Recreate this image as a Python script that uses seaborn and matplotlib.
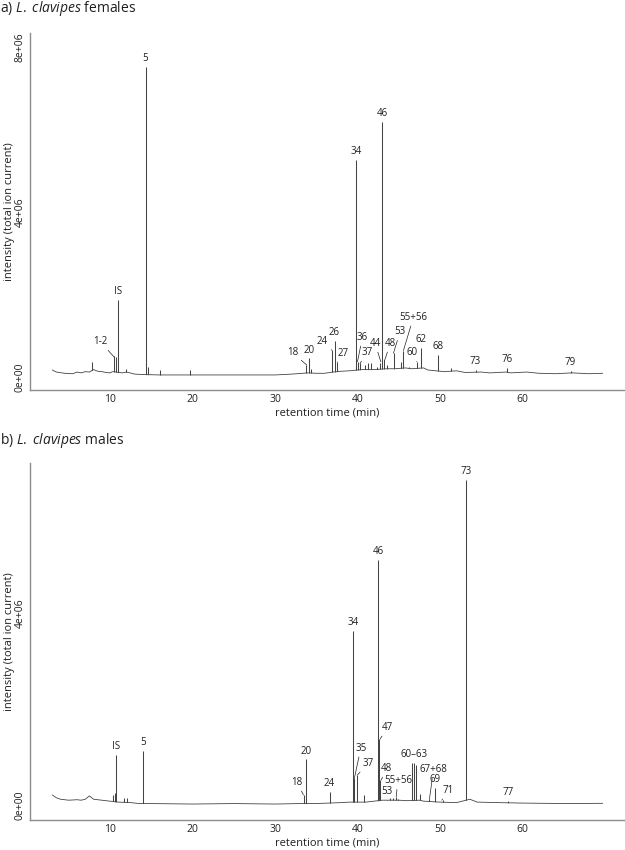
import matplotlib
matplotlib.use("Agg")
import matplotlib.pyplot as plt
import seaborn as sns

# ---- panel a: L. clavipes females (time in min, intensity in units of 1e6) ----
base_a_t = [3.0, 3.5, 4.5, 5.5, 6.0, 6.5, 7.0, 7.5, 8.0, 8.5, 9.0, 9.5, 10.0, 10.3,
            11.5, 12.0, 13.0, 14.0, 16.0, 20.0, 25.0, 30.0, 32.0, 34.0, 35.0, 36.0,
            37.0, 38.0, 39.0, 40.5, 42.0, 43.5, 44.5, 45.8, 46.5, 48.0, 48.5, 50.5,
            52.0, 53.0, 55.0, 56.0, 58.0, 58.5, 60.5, 62.0, 64.0, 66.0, 68.0, 69.7]
base_a_v = [0.17, 0.12, 0.09, 0.08, 0.12, 0.10, 0.13, 0.12, 0.18, 0.14, 0.13, 0.11,
            0.10, 0.13, 0.10, 0.12, 0.07, 0.06, 0.05, 0.05, 0.05, 0.05, 0.07, 0.10,
            0.09, 0.09, 0.12, 0.14, 0.15, 0.18, 0.18, 0.20, 0.20, 0.22, 0.20, 0.22,
            0.17, 0.13, 0.15, 0.11, 0.12, 0.10, 0.12, 0.10, 0.12, 0.09, 0.08, 0.10,
            0.08, 0.09]
peak_a_t = [7.8, 10.52, 10.69, 10.93, 11.9, 14.3, 14.65, 16.1, 19.7, 33.8, 34.1,
            34.4, 36.9, 37.2, 37.5, 39.8, 40.0, 40.3, 40.9, 41.3, 41.6, 42.3, 42.7,
            43.0, 43.25, 43.6, 44.35, 45.2, 45.5, 46.2, 47.25, 47.7, 49.7, 51.3,
            54.3, 58.1, 65.8]
peak_a_v = [0.37, 0.51, 0.48, 1.87, 0.20, 7.52, 0.25, 0.18, 0.18, 0.29, 0.45,
            0.20, 0.65, 0.87, 0.37, 5.26, 0.37, 0.33, 0.28, 0.33, 0.35, 0.25, 0.34,
            6.19, 0.43, 0.30, 0.575, 0.36, 0.64, 0.25, 0.37, 0.70, 0.53, 0.22,
            0.17, 0.23, 0.15]
top_lab_a = ["IS", "5", "20", "26", "34", "46", "62", "68", "73", "76", "79"]
top_lab_a_t = [10.93, 14.3, 34.1, 37.2, 39.8, 43.0, 47.7, 49.7, 54.3, 58.1, 65.8]
lead_lab_a = ["1-2", "18", "24", "27", "36", "37", "44", "48", "53", "55+56", "60"]
lead_lab_a_t = [10.52, 33.84, 36.87, 37.55, 39.98, 40.3, 42.81, 43.33, 44.34, 45.55, 47.18]
lead_lab_a_v = [0.48, 0.29, 0.65, 0.36, 0.37, 0.33, 0.37, 0.43, 0.575, 0.64, 0.37]

# ---- panel b: L. clavipes males ----
base_b_t = [3.0, 3.5, 4.0, 5.0, 6.0, 6.5, 7.0, 7.5, 8.0, 9.0, 10.0, 11.0, 12.5,
            13.5, 15.0, 20.0, 25.0, 30.0, 33.0, 35.0, 38.0, 39.0, 41.0, 42.0, 43.0,
            44.0, 45.0, 46.0, 47.5, 48.0, 50.0, 52.0, 53.6, 54.5, 57.0, 60.0, 65.0,
            69.7]
base_b_v = [0.21, 0.15, 0.12, 0.10, 0.11, 0.10, 0.12, 0.19, 0.12, 0.10, 0.08, 0.06,
            0.05, 0.03, 0.03, 0.02, 0.03, 0.02, 0.03, 0.03, 0.05, 0.06, 0.06, 0.08,
            0.10, 0.10, 0.10, 0.09, 0.10, 0.08, 0.06, 0.05, 0.12, 0.06, 0.05, 0.04,
            0.03, 0.035]
peak_b_t = [10.4, 10.55, 10.7, 11.7, 12.1, 14.0, 33.55, 33.75, 36.6, 39.4, 39.6,
            39.9, 40.8, 42.5, 42.6, 42.75, 43.6, 43.9, 44.3, 44.6, 44.9, 46.6, 46.8,
            47.05, 47.5, 48.7, 49.4, 50.3, 53.1, 58.2]
peak_b_v = [0.20, 0.25, 1.04, 0.15, 0.14, 1.13, 0.21, 0.95, 0.28, 3.63, 0.56,
            0.63, 0.21, 5.10, 1.375, 0.52, 0.10, 0.14, 0.15, 0.17, 0.12, 0.88, 0.88,
            0.83, 0.22, 0.12, 0.35, 0.10, 6.77, 0.08]
top_lab_b = ["IS", "5", "20", "24", "34", "46", "53", "60\u201363", "69", "73", "77"]
top_lab_b_t = [10.7, 14.0, 33.75, 36.6, 39.4, 42.5, 43.6, 46.8, 49.4, 53.1, 58.2]
lead_lab_b = ["18", "35", "37", "47", "48", "55+56", "67+68", "71"]
lead_lab_b_t = [33.43, 39.61, 39.98, 42.73, 42.85, 44.67, 48.7, 50.2]
lead_lab_b_v = [0.21, 0.56, 0.625, 1.375, 0.52, 0.17, 0.12, 0.10]

# text offsets (points) for labels with leader lines
lead_off_a = [(-10.3, 11.2), (-10.4, 8.9), (-6.8, 6.0), (4.3, 6.5), (3.6, 17.6),
              (4.8, 7.9), (-4.1, 13.2), (3.6, 11.5), (4.8, 15.6), (7.2, 24.0),
              (-3.6, 6.5)]
lead_off_b = [(-4.8, 9.1), (4.6, 21.6), (7.5, 8.4), (5.5, 8.4), (4.1, 8.4),
              (1.2, 11.6), (2.9, 21.1), (4.8, 7.2)]

sns.set_style("white")
plt.rcParams["font.family"] = ["Open Sans", "DejaVu Sans"]
plt.rcParams["mathtext.fontset"] = "custom"
plt.rcParams["mathtext.rm"] = "Open Sans"
plt.rcParams["mathtext.it"] = "Open Sans:italic"

TRACE = "#444444"
AXC = "#8c8c8c"
TXT = "#231f20"

fig = plt.figure(figsize=(6.25, 8.5), dpi=100)
ax_a = fig.add_axes([30 / 625, 1 - 390 / 850, 595 / 625, 357 / 850])
ax_b = fig.add_axes([30 / 625, 1 - 820 / 850, 595 / 625, 357 / 850])


def draw_panel(ax, bt, bv, pt, pv, tl, tlt, ll, llt, llv, loff, ylim, yticks):
    # peaks as thin spikes, the part under the baseline is masked in white
    ax.vlines(pt, 0, pv, color=TRACE, lw=0.75, zorder=2)
    ax.fill_between(bt, -0.12, bv, color="white", lw=0, zorder=2.2)
    sns.lineplot(x=bt, y=bv, ax=ax, color=TRACE, lw=0.6, zorder=3)
    for lab, t in zip(tl, tlt):
        v = pv[pt.index(t)]
        ax.annotate(lab, (t, v), xytext=(0, 6), textcoords="offset points",
                    ha="center", va="center", fontsize=7, color=TXT)
    for lab, t, v, off in zip(ll, llt, llv, loff):
        ax.annotate(lab, (t, v), xytext=off, textcoords="offset points",
                    ha="center", va="center", fontsize=7, color=TXT,
                    arrowprops=dict(arrowstyle="-", lw=0.5, color=TXT,
                                    shrinkA=0, shrinkB=0))
    ax.set_xlim(0.3, 72.4)
    ax.set_ylim(*ylim)
    ax.set_xticks([10, 20, 30, 40, 50, 60])
    ax.set_yticks(yticks)
    ax.set_yticklabels(["0e+00" if y == 0 else f"{int(y)}e+06" for y in yticks])
    ax.tick_params(length=0, labelsize=7.5, labelcolor=TXT, pad=3)
    ax.tick_params(axis="y", labelrotation=90)
    for lbl in ax.get_yticklabels():
        lbl.set_va("center")
    for s in ["top", "right"]:
        ax.spines[s].set_visible(False)
    for s in ["left", "bottom"]:
        ax.spines[s].set_color(AXC)
        ax.spines[s].set_linewidth(1.0)
    ax.set_xlabel("retention time (min)", fontsize=8, color=TXT, va="center")
    ax.xaxis.set_label_coords(0.5, -23 / 357)
    ax.set_ylabel("intensity (total ion current)", fontsize=8, color=TXT, va="center")
    ax.yaxis.set_label_coords(-20 / 595, 0.5)


draw_panel(ax_a, base_a_t, base_a_v, peak_a_t, peak_a_v, top_lab_a, top_lab_a_t,
           lead_lab_a, lead_lab_a_t, lead_lab_a_v, lead_off_a, (-0.315, 8.34), [0, 4, 8])
draw_panel(ax_b, base_b_t, base_b_v, peak_b_t, peak_b_v, top_lab_b, top_lab_b_t,
           lead_lab_b, lead_lab_b_t, lead_lab_b_v, lead_off_b, (-0.3125, 7.125), [0, 4])

fig.text(0.0, 1 - 9 / 850, r"a) $\mathit{L.}$ $\mathit{clavipes}$ females", fontsize=10,
         va="center", color=TXT)
fig.text(0.0, 1 - 440 / 850, r"b) $\mathit{L.}$ $\mathit{clavipes}$ males", fontsize=10,
         va="center", color=TXT)

fig.savefig("out.png", dpi=100)
